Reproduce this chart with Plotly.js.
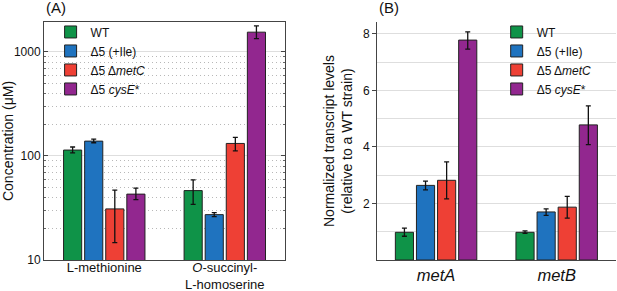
<!DOCTYPE html>
<html><head><meta charset="utf-8">
<script src="https://cdn.plot.ly/plotly-3.0.1.min.js"></script>
<style>html,body{margin:0;padding:0;background:#fff}#chart{width:617px;height:291px}</style>
</head><body><div id="chart"></div>
<script>
const strains = ['WT', 'Δ5 (+Ile)', 'Δ5 Δ<i>metC</i>', 'Δ5 <i>cysE</i>*'];
const colors = ['#0f9348', '#1f73bf', '#ee4035', '#92278f'];
const metabolites = ['L-methionine', '<i>O</i>-succinyl-<br>L-homoserine'];
const genes = ['<i>metA</i>', '<i>metB</i>'];

// Panel A: concentration (µM), one row per strain, columns = metabolites
const concVals = [[114, 46.5], [139, 27.3], [31, 132], [43, 1550]];
const concHi   = [[122, 59],   [145, 28.5], [47, 151], [49, 1780]];
const concLo   = [[107, 34.3], [134, 26.1], [14.7, 112], [38, 1345]];

// Panel B: normalized transcript levels, columns = genes
const txVals = [[0.98, 0.98], [2.64, 1.70], [2.82, 1.87], [7.78, 4.78]];
const txHi   = [[1.13, 1.03], [2.79, 1.81], [3.47, 2.25], [8.07, 5.45]];
const txLo   = [[0.84, 0.94], [2.48, 1.58], [2.16, 1.48], [7.46, 4.08]];

const concTicks = [10, 100, 1000];
const concMinor = [];
[10, 100].forEach(d => { for (let k = 2; k <= 9; k++) concMinor.push(k * d); });

const traces = [];
strains.forEach((s, i) => {
  traces.push({
    type: 'bar', x: metabolites, y: concVals[i], name: s,
    xaxis: 'x', yaxis: 'y', legend: 'legend',
    marker: {color: colors[i], line: {color: '#222', width: 1}},
    error_y: {type: 'data', symmetric: false,
      array: concVals[i].map((v, j) => concHi[i][j] - v),
      arrayminus: concVals[i].map((v, j) => v - concLo[i][j]),
      color: '#111', thickness: 1.3, width: 2.5}
  });
});
strains.forEach((s, i) => {
  traces.push({
    type: 'bar', x: genes, y: txVals[i], name: s,
    xaxis: 'x2', yaxis: 'y2', legend: 'legend2',
    marker: {color: colors[i], line: {color: '#222', width: 1}},
    error_y: {type: 'data', symmetric: false,
      array: txVals[i].map((v, j) => txHi[i][j] - v),
      arrayminus: txVals[i].map((v, j) => v - txLo[i][j]),
      color: '#111', thickness: 1.3, width: 2.5}
  });
});

const font = {family: 'Liberation Sans, Arial, sans-serif', color: '#111'};
const yDom = [0.1065, 0.9244];
const layout = {
  width: 617, height: 291,
  margin: {l: 0, r: 0, t: 0, b: 0},
  paper_bgcolor: '#fff', plot_bgcolor: '#fff',
  font: Object.assign({size: 12}, font),
  barmode: 'group', bargap: 0.3, bargroupgap: 0.14,
  xaxis: {domain: [0.0713, 0.462], anchor: 'y', range: [-0.5, 1.5], showline: true, mirror: true,
    linecolor: '#444', linewidth: 1, ticks: '', tickfont: {size: 13}, showgrid: false, zeroline: false,
    ticklabelstandoff: -5},
  yaxis: {domain: yDom, anchor: 'x', type: 'log', range: [1, 3.288], tickvals: concTicks, ticktext: concTicks.map(String),
    showline: true, mirror: 'ticks', linecolor: '#444', linewidth: 1, ticks: 'inside', ticklen: 4, tickcolor: '#444',
    tickfont: {size: 12}, showgrid: true, gridcolor: '#dedede', gridwidth: 1, zeroline: false,
    minor: {tickvals: concMinor, showgrid: true, griddash: '1px,3px', gridcolor: '#b8b8b8', ticks: 'inside', ticklen: 2, tickcolor: '#666'},
    title: {text: 'Concentration (μM)', font: {size: 14}, standoff: 8}},
  xaxis2: {domain: [0.611, 0.998], anchor: 'y2', range: [-0.49, 1.49], showline: true, mirror: false,
    linecolor: '#444', linewidth: 1, ticks: '', tickfont: {size: 16.5}, showgrid: false, zeroline: false},
  yaxis2: {domain: yDom, anchor: 'x2', range: [0, 8.42], tickvals: [2, 4, 6, 8], showline: true, linecolor: '#444', linewidth: 1,
    ticks: 'outside', ticklen: 4, tickcolor: '#444', tickfont: {size: 12},
    showgrid: true, gridcolor: '#dedede', zeroline: false,
    minor: {dtick: 1, showgrid: true, gridcolor: '#dedede', ticks: ''},
    title: {text: 'Normalized transcript levels<br>(relative to a WT strain)', font: {size: 14}, standoff: 6}},
  legend: {x: 0.082, xanchor: 'left', y: 0.94, yanchor: 'top', bgcolor: 'rgba(0,0,0,0)',
    font: {size: 12}, tracegroupgap: 0},
  legend2: {x: 0.805, xanchor: 'left', y: 0.94, yanchor: 'top', bgcolor: 'rgba(0,0,0,0)',
    font: {size: 12}, tracegroupgap: 0},
  showlegend: true,
  annotations: [
    {text: '(A)', xref: 'paper', yref: 'paper', x: 0.0713, y: 1.012, xanchor: 'left', yanchor: 'top', showarrow: false, font: {size: 15}},
    {text: '(B)', xref: 'paper', yref: 'paper', x: 0.611, y: 1.012, xanchor: 'left', yanchor: 'top', showarrow: false, font: {size: 15}}
  ]
};
Plotly.newPlot('chart', traces, layout, {displayModeBar: false, staticPlot: true});
</script></body></html>
